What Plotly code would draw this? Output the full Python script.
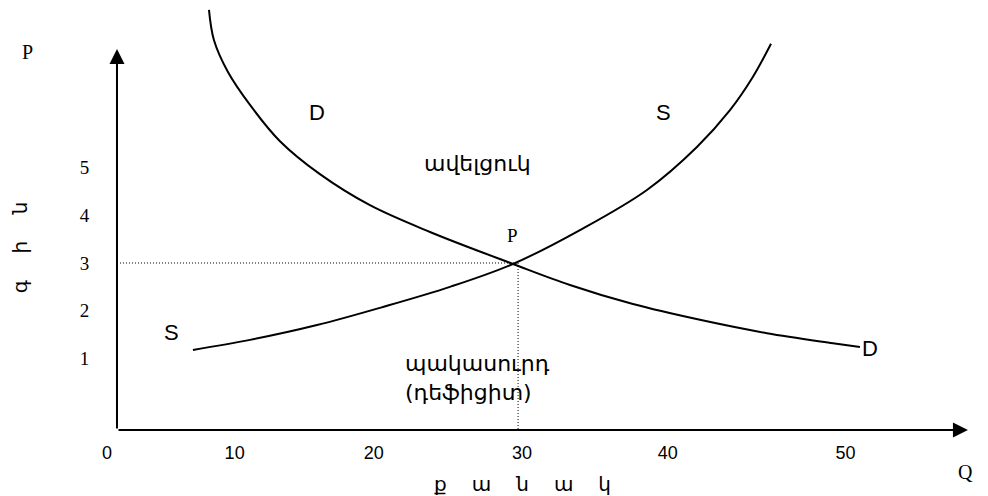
import plotly.graph_objects as go

# demand curve D (quantity, price)
d_q = [6.88, 7.25, 8.3, 9.95, 12.19, 15.18, 18.92, 23.41, 29.62, 33.88, 38.59, 43.6, 48.62, 53.55, 55.57]
d_p = [8.3, 7.67, 7.0, 6.31, 5.55, 4.86, 4.21, 3.65, 2.98, 2.54, 2.14, 1.81, 1.53, 1.32, 1.24]

# supply curve S
s_q = [5.68, 9.95, 14.96, 19.9, 24.9, 29.62, 34.63, 39.64, 43.38, 45.85, 47.57, 48.92]
s_p = [1.18, 1.39, 1.7, 2.08, 2.5, 2.98, 3.69, 4.53, 5.43, 6.2, 6.9, 7.59]

# equilibrium point
q_eq = 30
p_eq = 3

# tick labels (the x labels sit unevenly in the original drawing)
q_ticks = [-0.75, 8.8, 19.2, 30.3, 41.2, 54.5]
q_labels = ["0", "10", "20", "30", "40", "50"]
p_ticks = [1, 2, 3, 4, 5]
p_labels = ["1", "2", "3", "4", "5"]

y_bottom = -0.497
serif = "Liberation Serif, Times New Roman, serif"
sans = "Liberation Sans, Arial, sans-serif"
arm = "DejaVu Sans, sans-serif"

fig = go.Figure()

# dotted guide lines to the equilibrium
dots = dict(color="black", width=1, dash="1px,2px")
fig.add_trace(go.Scatter(x=[0, q_eq], y=[p_eq, p_eq], mode="lines", line=dots, hoverinfo="skip"))
fig.add_trace(go.Scatter(x=[q_eq, q_eq], y=[p_eq, y_bottom], mode="lines", line=dots, hoverinfo="skip"))

fig.add_trace(go.Scatter(x=d_q, y=d_p, mode="lines", name="D",
                         line=dict(color="black", width=2, shape="spline", smoothing=1)))
fig.add_trace(go.Scatter(x=s_q, y=s_p, mode="lines", name="S",
                         line=dict(color="black", width=2, shape="spline", smoothing=1)))

# axes with arrow heads
fig.add_annotation(x=0, y=7.48, ax=0, ay=y_bottom, xref="x", yref="y", axref="x", ayref="y",
                   text="", showarrow=True, arrowhead=2, arrowsize=1.5, arrowwidth=2, arrowcolor="black")
fig.add_annotation(x=63.65, y=y_bottom, ax=0, ay=y_bottom, xref="x", yref="y", axref="x", ayref="y",
                   text="", showarrow=True, arrowhead=2, arrowsize=1.5, arrowwidth=2, arrowcolor="black")

def label(x, y, text, family, size, ref="x", xanchor="center", **kw):
    yref = "y" if ref == "x" else "paper"
    fig.add_annotation(x=x, y=y, xref=ref, yref=yref, text=text, showarrow=False,
                       xanchor=xanchor, yanchor="middle",
                       font=dict(family=family, size=size, color="black"), **kw)

# labels inside the plot
label(29.62, 3.586, "P", serif, 19)
label(14.96, 6.16, "D", sans, 22)
label(40.91, 6.16, "S", sans, 22)
label(4.11, 1.555, "S", sans, 22)
label(55.6, 1.22, "D", sans, 22, xanchor="left")
label(26.93, 5.094, "ավելցուկ", arm, 22)
label(21.39, 0.906, "պակասուրդ", arm, 22, xanchor="left")
label(21.39, 0.298, "(դեֆիցիտ)", arm, 22, xanchor="left")

# axis titles outside the plot
label(-0.0871, 0.8957, "P", serif, 20, ref="paper")
label(0.974, -0.0995, "Q", serif, 20, ref="paper")
label(0.4729, -0.128, "\u2003\u2005".join("քանակ"), arm, 20, ref="paper")
label(-0.0948, 0.4336, "\u2003\u2004".join("գին"), arm, 20, ref="paper", textangle=-90)

fig.update_layout(
    width=980, height=488,
    margin=dict(l=96, r=0, t=0, b=66),
    paper_bgcolor="white", plot_bgcolor="white",
    showlegend=False,
    xaxis=dict(range=[-0.972, 65.15], showgrid=False, zeroline=False, showline=False,
               tickvals=q_ticks, ticktext=q_labels, ticks="outside", ticklen=6,
               tickcolor="rgba(0,0,0,0)", tickfont=dict(family=sans, size=18, color="black")),
    yaxis=dict(range=[y_bottom, 8.34], showgrid=False, zeroline=False, showline=False,
               tickvals=p_ticks, ticktext=p_labels, ticks="outside", ticklen=10,
               tickcolor="rgba(0,0,0,0)", tickfont=dict(family=serif, size=19, color="black")),
)

fig.write_html("out.html")
